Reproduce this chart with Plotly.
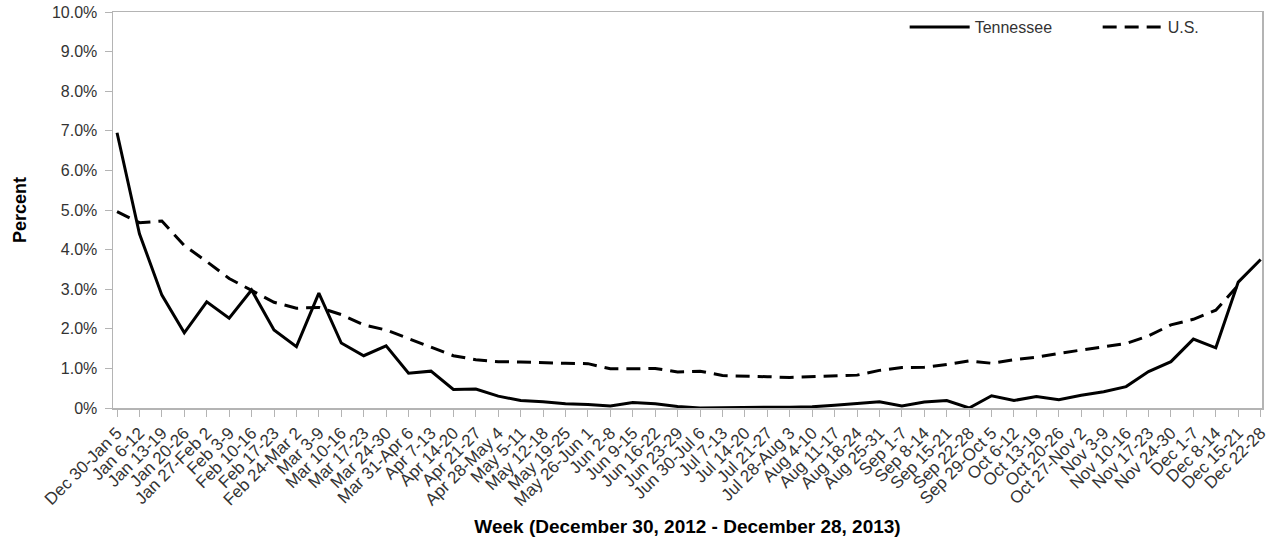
import plotly.graph_objects as go

weeks = [
    "Dec 30-Jan 5", "Jan 6-12", "Jan 13-19", "Jan 20-26", "Jan 27-Feb 2", "Feb 3-9",
    "Feb 10-16", "Feb 17-23", "Feb 24-Mar 2", "Mar 3-9", "Mar 10-16", "Mar 17-23",
    "Mar 24-30", "Mar 31-Apr 6", "Apr 7-13", "Apr 14-20", "Apr 21-27", "Apr 28-May 4",
    "May 5-11", "May 12-18", "May 19-25", "May 26-Jun 1", "Jun 2-8", "Jun 9-15",
    "Jun 16-22", "Jun 23-29", "Jun 30-Jul 6", "Jul 7-13", "Jul 14-20", "Jul 21-27",
    "Jul 28-Aug 3", "Aug 4-10", "Aug 11-17", "Aug 18-24", "Aug 25-31", "Sep 1-7",
    "Sep 8-14", "Sep 15-21", "Sep 22-28", "Sep 29-Oct 5", "Oct 6-12", "Oct 13-19",
    "Oct 20-26", "Oct 27-Nov 2", "Nov 3-9", "Nov 10-16", "Nov 17-23", "Nov 24-30",
    "Dec 1-7", "Dec 8-14", "Dec 15-21", "Dec 22-28",
]

tennessee = [
    6.95, 4.4, 2.85, 1.9, 2.68, 2.27, 2.98, 1.97, 1.55, 2.9, 1.64, 1.32,
    1.57, 0.88, 0.93, 0.47, 0.48, 0.3, 0.19, 0.16, 0.11, 0.09, 0.05, 0.14,
    0.11, 0.04, 0.0, 0.01, 0.02, 0.02, 0.02, 0.03, 0.07, 0.12, 0.16, 0.05,
    0.15, 0.19, 0.0, 0.31, 0.19, 0.29, 0.21, 0.32, 0.41, 0.54, 0.92, 1.17,
    1.74, 1.52, 3.18, 3.75,
]

us = [
    4.96, 4.68, 4.72, 4.1, 3.7, 3.27, 2.97, 2.67, 2.52, 2.54, 2.36, 2.1,
    1.97, 1.75, 1.53, 1.32, 1.22, 1.17, 1.16, 1.14, 1.13, 1.12, 0.99, 0.99,
    1.0, 0.91, 0.93, 0.82, 0.81, 0.79, 0.77, 0.79, 0.8, 0.83, 0.95, 1.02,
    1.03, 1.1, 1.19, 1.13, 1.22, 1.28, 1.38, 1.46, 1.55, 1.63, 1.82, 2.1,
    2.24, 2.47, 3.1, None,
]

y_ticks = [0, 1, 2, 3, 4, 5, 6, 7, 8, 9, 10]
y_labels = ["0%", "1.0%", "2.0%", "3.0%", "4.0%", "5.0%", "6.0%", "7.0%", "8.0%", "9.0%", "10.0%"]

FONT = "Liberation Sans, Arial, sans-serif"
AXIS_GRAY = "#b4b4b4"
TEXT_GRAY = "#333333"

fig = go.Figure()
fig.add_trace(go.Scatter(
    x=weeks, y=tennessee, name="Tennessee", mode="lines",
    line=dict(color="black", width=3), connectgaps=False,
))
fig.add_trace(go.Scatter(
    x=weeks, y=us, name="U.S.", mode="lines",
    line=dict(color="black", width=3, dash="14px,8px"), connectgaps=False,
))

fig.update_layout(
    width=1266, height=542,
    margin=dict(l=113, r=4, t=12, b=134, autoexpand=False),
    paper_bgcolor="white", plot_bgcolor="white",
    font=dict(family=FONT, color=TEXT_GRAY),
    showlegend=True,
    legend=dict(
        orientation="h", x=0.689, y=1.005, xanchor="left", yanchor="top",
        font=dict(size=16, color=TEXT_GRAY), bgcolor="rgba(0,0,0,0)",
        entrywidth=118, entrywidthmode="pixels", itemwidth=60,
    ),
    xaxis=dict(
        type="category", range=[-0.18, 51.06],
        showline=True, linecolor=AXIS_GRAY, linewidth=1.5, mirror=True,
        ticks="outside", ticklen=7, tickcolor=AXIS_GRAY, tickwidth=1,
        tickangle=-45, tickfont=dict(size=17, color=TEXT_GRAY),
        showgrid=False, zeroline=False,
        title=dict(text="<b>Week (December 30, 2012 - December 28, 2013)</b>",
                   font=dict(size=19, color="black"), standoff=10),
        automargin=False,
    ),
    yaxis=dict(
        range=[0, 10], tickvals=y_ticks, ticktext=y_labels,
        showline=True, linecolor=AXIS_GRAY, linewidth=1.5, mirror=True,
        ticks="outside", ticklen=7, tickcolor=AXIS_GRAY, tickwidth=1,
        tickfont=dict(size=16, color=TEXT_GRAY), ticklabelstandoff=4,
        showgrid=False, zeroline=False,
        title=dict(text="<b>Percent</b>", font=dict(size=18, color="black"), standoff=20),
        automargin=False,
    ),
)

# remove the default page margin so the figure fills the window exactly
fig.write_html(
    "out.html",
    config={"displayModeBar": False, "staticPlot": True},
    post_script="document.body.style.margin='0';document.body.style.overflow='hidden';",
)
